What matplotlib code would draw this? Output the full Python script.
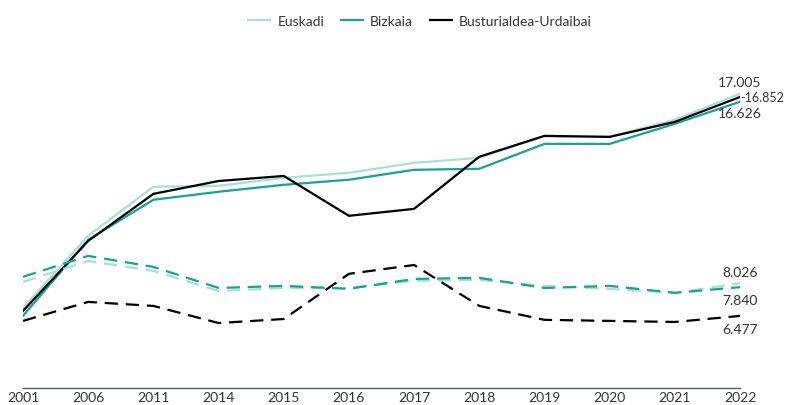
import matplotlib
matplotlib.use('Agg')
import matplotlib.pyplot as plt

plt.rcParams['font.family'] = ['Lato', 'DejaVu Sans']

years = ['2001', '2006', '2011', '2014', '2015', '2016', '2017', '2018', '2019', '2020', '2021', '2022']

# solid series
euskadi = [6.86, 10.27, 12.60, 12.64, 13.02, 13.26, 13.73, 13.97, 14.98, 14.98, 15.77, 17.005]
bizkaia = [6.48, 10.08, 11.98, 12.36, 12.69, 12.93, 13.40, 13.45, 14.63, 14.63, 15.58, 16.626]
busturi = [6.71, 10.03, 12.26, 12.87, 13.11, 11.22, 11.55, 14.02, 15.01, 14.96, 15.67, 16.852]

# dashed series
euskadi_d = [8.09, 9.08, 8.61, 7.66, 7.80, 7.80, 8.14, 8.18, 7.90, 7.76, 7.57, 8.026]
bizkaia_d = [8.33, 9.32, 8.80, 7.80, 7.90, 7.76, 8.23, 8.28, 7.80, 7.90, 7.57, 7.840]
busturi_d = [6.24, 7.14, 6.95, 6.14, 6.33, 8.47, 8.89, 6.95, 6.29, 6.24, 6.19, 6.477]

names = ['Euskadi', 'Bizkaia', 'Busturialdea-Urdaibai']
colors = ['#a9e0d6', '#17a19a', '#000000']
txt = '#333333'

fig = plt.figure(figsize=(7.85, 4.06), dpi=100)
ax = fig.add_axes([23/785, 17/406, (740-23)/785, (389-40)/406])

x = list(range(len(years)))
for s, c, n in zip([euskadi, bizkaia, busturi], colors, names):
    ax.plot(x, s, color=c, lw=1.6, label=n)
for s, c in zip([euskadi_d, bizkaia_d, busturi_d], colors):
    ax.plot(x, s, color=c, lw=1.6, dashes=(6, 3.5))

ax.set_xlim(0, 11)
ax.set_ylim(3.06, 19.6)
ax.set_xticks(x)
ax.set_xticklabels(years, fontsize=10, color=txt)
ax.tick_params(axis='x', length=0, pad=2)
ax.set_yticks([])
for sp in ['top', 'right', 'left']:
    ax.spines[sp].set_visible(False)
ax.spines['bottom'].set_color('#555b63')
ax.spines['bottom'].set_linewidth(1)

# end labels
last = 11
ax.annotate('17.005', (last, euskadi[-1]), xytext=(0, 12), textcoords='offset pixels',
            ha='center', va='center', fontsize=10, color=txt)
ax.annotate('-16.852', (last, busturi[-1]), xytext=(0, 0), textcoords='offset pixels',
            ha='left', va='center', fontsize=9, color=txt, annotation_clip=False)
ax.annotate('16.626', (last, bizkaia[-1]), xytext=(0, -11), textcoords='offset pixels',
            ha='center', va='center', fontsize=10, color=txt)
ax.annotate('8.026', (last, euskadi_d[-1]), xytext=(0, 11), textcoords='offset pixels',
            ha='center', va='center', fontsize=10, color=txt)
ax.annotate('7.840', (last, bizkaia_d[-1]), xytext=(0, -13), textcoords='offset pixels',
            ha='center', va='center', fontsize=10, color=txt)
ax.annotate('6.477', (last, busturi_d[-1]), xytext=(0, -13), textcoords='offset pixels',
            ha='center', va='center', fontsize=10, color=txt)

fig.legend(loc='center', bbox_to_anchor=(0.535, 0.946), ncol=3, frameon=False,
           fontsize=10, handlelength=1.6, handletextpad=0.5, columnspacing=1.2,
           labelcolor=txt)

fig.savefig('out.png', dpi=100)
